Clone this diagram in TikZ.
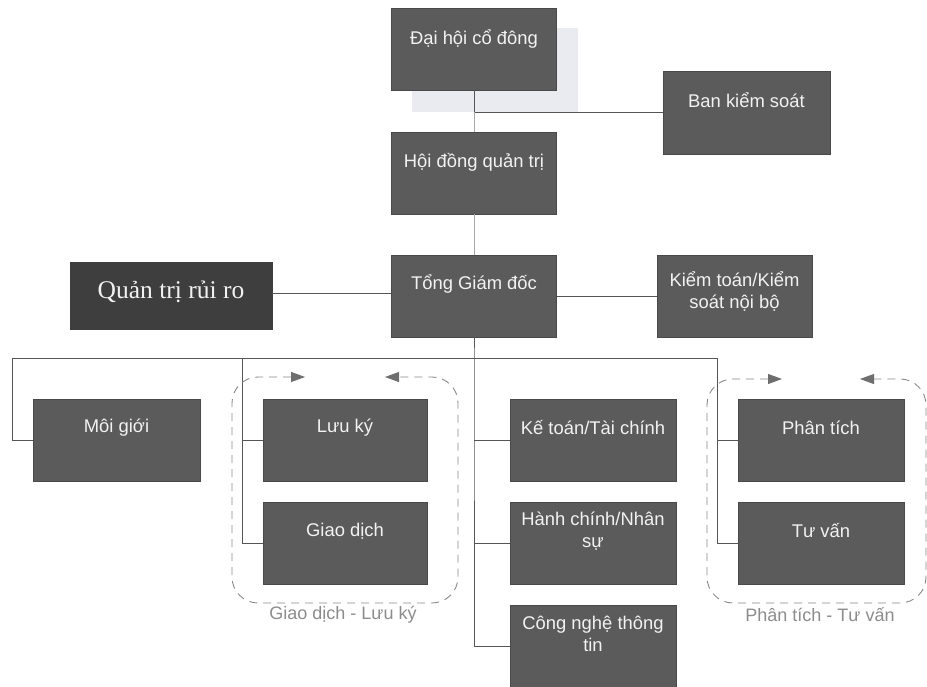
\documentclass[tikz,border=0pt]{standalone}
\usepackage{fontspec}
\setmainfont{Liberation Sans}
\newfontfamily\qserif{Liberation Serif}
\usetikzlibrary{arrows.meta}
\definecolor{boxgray}{HTML}{5B5B5B}
\definecolor{boxdark}{HTML}{3E3E3E}
\definecolor{linegray}{HTML}{555555}
\definecolor{lightline}{HTML}{A8A8A8}
\definecolor{dashgray}{HTML}{8A8A8A}
\definecolor{tipgray}{HTML}{6E6E6E}
\definecolor{shadowc}{HTML}{E9EBF1}
\definecolor{txtw}{HTML}{F2F2F2}
\begin{document}
\begin{tikzpicture}[x=1pt,y=-1pt,
  orgbox/.style={fill=boxgray, draw=boxgray!80!black, line width=0.4pt, inner sep=0pt,
     minimum width=165pt, minimum height=82pt},
  txt/.style={text=txtw, font=\fontsize{18.4}{22}\selectfont, align=center, inner sep=0pt},
  conn/.style={draw=linegray, line width=0.9pt},
  lconn/.style={draw=lightline, line width=0.9pt},
  grp/.style={draw=dashgray, line width=0.9pt, dash pattern=on 8pt off 6pt},
  grptips/.style={{Triangle[length=14pt,width=10pt,color=tipgray,fill=tipgray]}-{Triangle[length=14pt,width=10pt,color=tipgray,fill=tipgray]}},
  grplabel/.style={text=gray!90, font=\fontsize{18}{21}\selectfont, inner sep=0pt}]
\useasboundingbox (0,0) rectangle (927,686);
\fill[white] (0,0) rectangle (927,686);
% shadow behind top box
\node[fill=shadowc, inner sep=0pt, minimum width=166pt, minimum height=84pt] (sh) at (495,70) {};
% boxes
\node[orgbox] (dh) at (474,49) {};
\node[orgbox, minimum width=167pt, minimum height=83pt] (bks) at (746.5,112.5) {};
\node[orgbox] (hd) at (474,173) {};
\node[orgbox] (tgd) at (474,296) {};
\node[orgbox, fill=boxdark, draw=boxdark, minimum width=202pt, minimum height=67pt] (qt) at (171,295.5) {};
\node[orgbox, minimum width=155pt] (kt) at (734.5,296) {};
\node[orgbox, minimum width=167pt] (mg) at (116.5,440) {};
\node[orgbox, minimum width=164pt] (lk) at (345,440) {};
\node[orgbox, minimum width=164pt] (gd) at (345,543) {};
\node[orgbox, minimum width=166pt] (ktc) at (593,440) {};
\node[orgbox, minimum width=166pt] (hc) at (593,543) {};
\node[orgbox, minimum width=166pt] (cn) at (593,646) {};
\node[orgbox, minimum width=166pt] (pt) at (821,440) {};
\node[orgbox, minimum width=166pt] (tv) at (821,543) {};
% texts
\node[txt] (dht) at ([yshift=10pt]dh.center) {Đại hội cổ đông};
\node[txt] (bkst) at ([yshift=12pt]bks.center) {Ban kiểm soát};
\node[txt] (hdt) at ([yshift=11pt]hd.center) {Hội đồng quản trị};
\node[txt] (tgdt) at ([yshift=12pt]tgd.center) {Tổng Giám đốc};
\node[txt, font=\qserif\fontsize{25.5}{30}\selectfont] (qtt) at ([yshift=4pt]qt.center) {Quản trị rủi ro};
\node[txt] (ktt) at ([yshift=5pt]kt.center) {Kiểm toán/Kiểm\\soát nội bộ};
\node[txt] (mgt) at ([yshift=12pt]mg.center) {Môi giới};
\node[txt] (lkt) at ([yshift=12pt]lk.center) {Lưu ký};
\node[txt] (gdt) at ([yshift=12pt]gd.center) {Giao dịch};
\node[txt] (ktct) at ([yshift=12pt]ktc.center) {Kế toán/Tài chính};
\node[txt] (hct) at ([yshift=12pt]hc.center) {Hành chính/Nhân\\sự};
\node[txt] (cnt) at ([yshift=12pt]cn.center) {Công nghệ thông\\tin};
\node[txt] (ptt) at ([yshift=12pt]pt.center) {Phân tích};
\node[txt] (tvt) at ([yshift=12pt]tv.center) {Tư vấn};
% junction coordinates
\coordinate (j1) at (474,112);
\coordinate (busL) at (12,358);
\coordinate (busM) at (474,358);
\coordinate (bus2) at (242,358);
\coordinate (busR) at (717,358);
% top connectors
\draw[conn] (dh.south) -- (j1) -- (bks.west |- j1);
\draw[lconn] (j1) -- (hd.north);
\draw[lconn] (hd.south) -- (tgd.north);
\draw[conn] (qt.east |- 0,293) -- (tgd.west |- 0,293);
\draw[conn] (tgd.east) -- (kt.west);
% bus
\draw[conn] (tgd.south) -- (busM) -- (busM |- cn.west) -- (cn.west);
\draw[conn] (busL) -- (busR);
\draw[conn] (busL) -- (busL |- mg.west) -- (mg.west);
\draw[conn] (bus2) -- (bus2 |- gd.west) -- (gd.west);
\draw[conn] (bus2 |- lk.west) -- (lk.west);
\draw[conn] (busM |- ktc.west) -- (ktc.west);
\draw[conn] (busM |- hc.west) -- (hc.west);
\draw[conn] (busR) -- (busR |- tv.west) -- (tv.west);
\draw[conn] (busR |- pt.west) -- (pt.west);
% dashed groups
\coordinate (g1a) at (305,377);
\coordinate (g1b) at (385,377);
\coordinate (g2a) at (782,379);
\coordinate (g2b) at (860,379);
\draw[grp, grptips]
  (g1a) -- (258,377) [rounded corners=26pt] -- (232,377) -- (232,603) -- (458,603) -- (458,377) [sharp corners] -- (432,377) -- (g1b);
\draw[grp, grptips]
  (g2a) -- (733,379) [rounded corners=26pt] -- (707,379) -- (707,603) -- (926,603) -- (926,379) [sharp corners] -- (900,379) -- (g2b);
\node[grplabel] (l1) at (343,615) {Giao dịch - Lưu ký};
\node[grplabel] (l2) at (820,615) {Phân tích - Tư vấn};
\end{tikzpicture}
\end{document}
